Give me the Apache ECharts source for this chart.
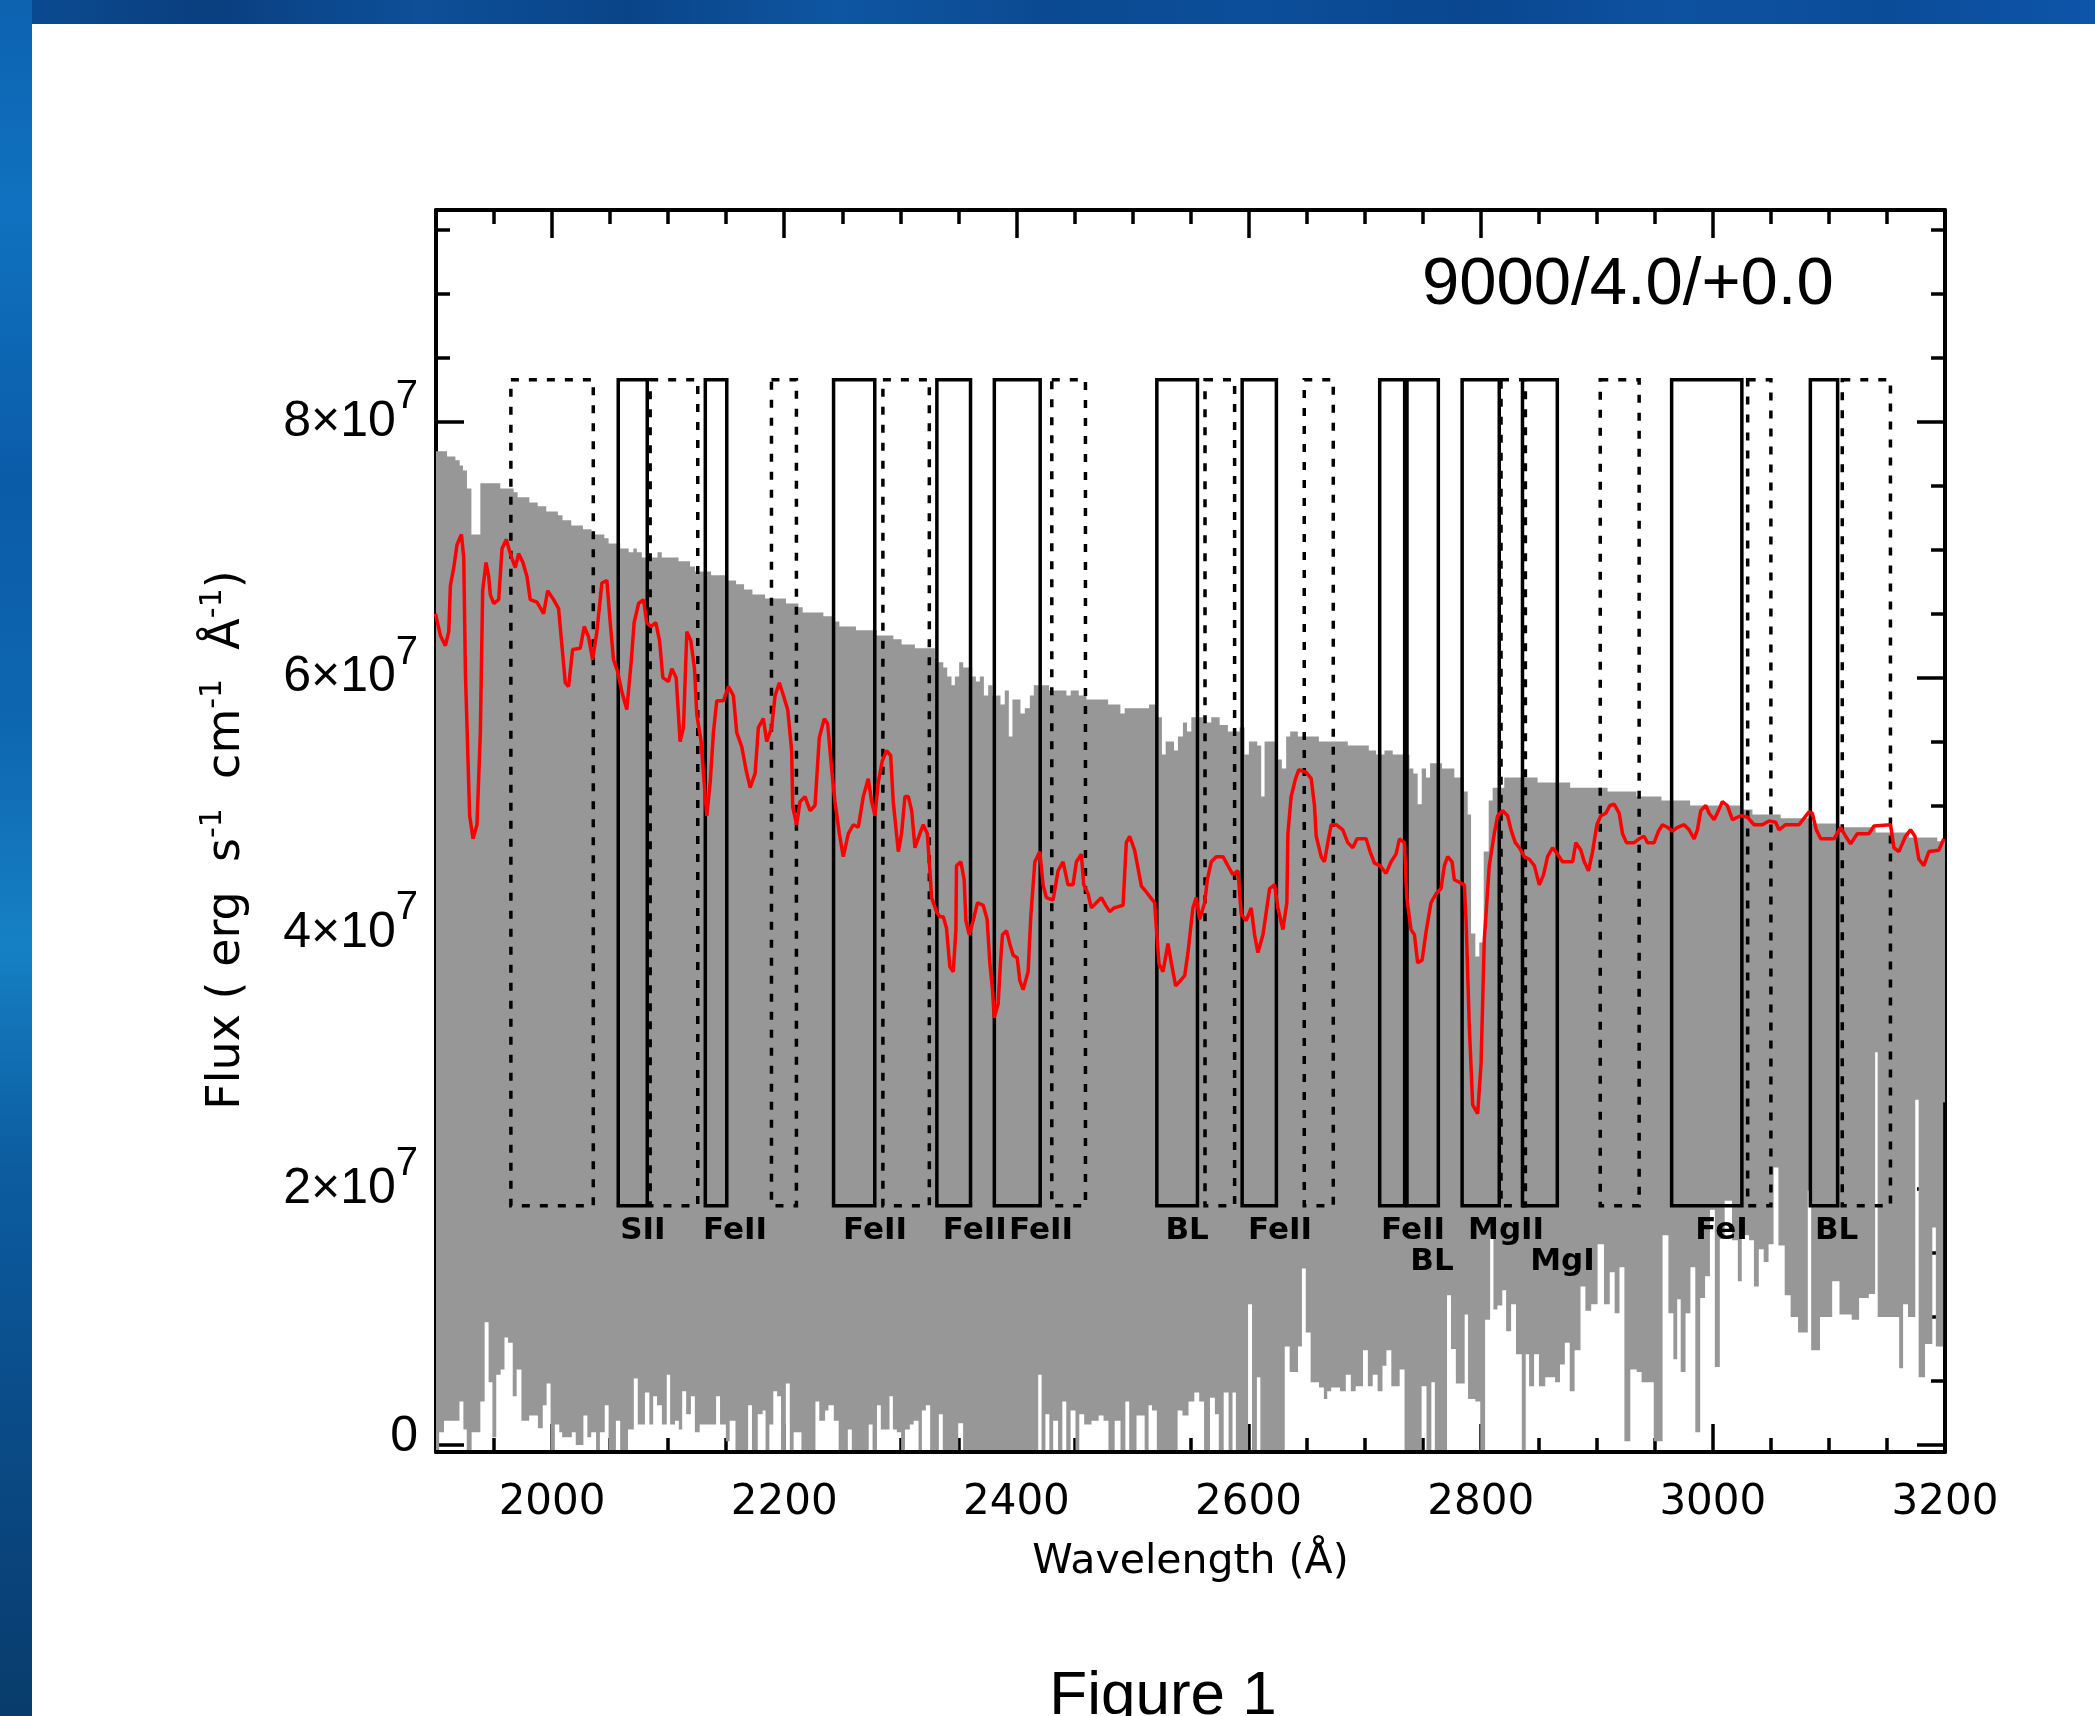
<!DOCTYPE html>
<html><head><meta charset="utf-8">
<script src="https://cdn.jsdelivr.net/npm/echarts@6/dist/echarts.min.js"></script>
<style>html,body{margin:0;padding:0;background:#fff}#c{width:2095px;height:1716px}</style>
</head><body><div id="c"></div>
<script>
// ---------------- data (flux in units of 1e7 erg s-1 cm-1 A-1) ----------------
const WAVE_MIN = 1900, WAVE_MAX = 3200;
const FLUX_MIN = -0.055, FLUX_MAX = 9.657;

const xTickValues = [2000, 2200, 2400, 2600, 2800, 3000, 3200];
const xMinorTickValues = [1950, 2050, 2100, 2150, 2250, 2300, 2350, 2450, 2500, 2550, 2650, 2700, 2750, 2850, 2900, 2950, 3050, 3100, 3150];
const yTickValues = [0, 2, 4, 6, 8];
const yMinorTickValues = [0.5, 1, 1.5, 2.5, 3, 3.5, 4.5, 5, 5.5, 6.5, 7, 7.5, 8.5, 9, 9.5];

// high-resolution model spectrum: upper envelope (step start wavelength, flux)
const modelUpper = [
[1900,7.77],[1909.5,7.73],[1916.7,7.70],[1920.4,7.66],[1923.3,7.62],[1926.7,7.48],[1930.5,7.12],[1938.2,7.52],[1955.4,7.48],[1966.9,7.45],[1970.3,7.41],[1980.4,7.37],[1987.6,7.34],[1995.0,7.30],[2005.0,7.27],[2009.0,7.23],[2016.5,7.19],[2026.6,7.16],[2034.0,7.12],[2045.0,7.09],[2048.7,7.05],[2058.7,7.01],[2066.0,6.98],[2070.0,7.01],[2073.0,6.98],[2077.3,6.94],[2090.8,6.98],[2094.5,6.94],[2108.9,6.91],[2118.9,6.87],[2123.2,6.83],[2137.0,6.80],[2151.3,6.76],[2158.5,6.73],[2165.4,6.69],[2172.6,6.65],[2183.5,6.62],[2201.5,6.58],[2212.2,6.55],[2215.9,6.51],[2233.7,6.48],[2243.7,6.44],[2247.5,6.40],[2261.8,6.37],[2279.6,6.33],[2294.0,6.30],[2301.1,6.26],[2312.6,6.23],[2329.8,6.15],[2332.7,6.12],[2337.0,6.08],[2340.4,6.01],[2344.1,5.94],[2347.0,6.01],[2350.7,6.12],[2354.2,6.08],[2361.9,6.01],[2365.1,5.97],[2368.5,6.01],[2372.0,5.86],[2375.7,5.94],[2379.4,5.86],[2386.3,5.79],[2390.0,5.90],[2393.5,5.54],[2396.6,5.83],[2403.5,5.72],[2407.3,5.76],[2411.6,5.86],[2415.0,5.94],[2428.2,5.90],[2443.1,5.86],[2446.8,5.90],[2453.7,5.86],[2460.3,5.83],[2479.0,5.79],[2489.6,5.72],[2493.3,5.76],[2514.3,5.79],[2522.0,5.69],[2525.4,5.40],[2528.6,5.50],[2535.8,5.43],[2539.2,5.54],[2543.5,5.65],[2547.0,5.58],[2550.7,5.69],[2560.7,5.65],[2567.9,5.69],[2575.1,5.63],[2582.2,5.58],[2592.3,5.61],[2596.6,5.40],[2600.3,5.50],[2607.5,5.47],[2610.9,5.07],[2613.8,5.50],[2625.3,5.36],[2628.7,5.29],[2632.4,5.54],[2635.9,5.58],[2642.5,5.54],[2660.6,5.50],[2685.5,5.47],[2703.6,5.43],[2709.9,5.40],[2717.1,5.43],[2724.2,5.40],[2738.6,5.29],[2742.0,5.25],[2745.7,5.01],[2749.2,5.29],[2752.9,5.22],[2756.4,5.33],[2766.7,5.29],[2777.3,5.22],[2785.3,5.11],[2788.8,4.93],[2791.7,4.00],[2795.4,3.82],[2798.8,3.93],[2802.6,4.64],[2806.9,5.04],[2810.3,5.14],[2820.3,5.22],[2849.0,5.18],[2877.1,5.14],[2909.3,5.11],[2934.2,5.07],[2955.7,5.04],[2980.4,5.00],[3024.0,4.97],[3034.1,4.93],[3058.4,4.90],[3085.7,4.86],[3108.6,4.83],[3140.2,4.79],[3168.9,4.75],[3193.3,4.72]
];

// high-resolution model spectrum: lower envelope (step start wavelength, flux)
const modelLower = [
[1900,-0.04],[1902.7,0.10],[1906.9,0.19],[1920.2,0.34],[1923.6,0.12],[1926.5,-0.04],[1930.7,0.10],[1938.2,0.34],[1941.9,0.96],[1945.3,0.49],[1948.6,0.06],[1951.9,0.55],[1955.7,0.59],[1959.0,0.84],[1962.0,0.80],[1966.1,0.38],[1969.5,0.59],[1973.6,0.19],[1980.3,0.23],[1987.8,0.13],[1992.0,0.31],[1995.3,0.48],[1998.7,-0.04],[2002.4,0.16],[2006.2,0.10],[2008.7,0.06],[2017.0,0.10],[2020.4,0.0],[2027.0,0.23],[2030.4,0.06],[2033.7,0.10],[2037.9,-0.04],[2041.2,0.10],[2045.4,0.31],[2048.7,-0.04],[2055.0,0.19],[2058.7,-0.04],[2065.4,0.12],[2070.4,0.52],[2073.8,0.16],[2080.0,0.41],[2083.8,0.16],[2087.1,0.38],[2090.4,0.31],[2094.6,0.16],[2098.8,0.55],[2101.7,0.16],[2105.9,0.19],[2109.2,0.12],[2112.1,0.42],[2115.5,0.24],[2119.6,0.38],[2123.0,0.10],[2127.2,0.16],[2141.3,0.38],[2144.7,0.16],[2149.7,0.03],[2153.0,0.19],[2158.0,-0.04],[2168.9,0.31],[2172.2,-0.04],[2177.2,0.24],[2181.4,0.27],[2183.9,-0.04],[2187.2,0.16],[2190.6,0.42],[2193.9,0.38],[2197.2,-0.04],[2201.4,0.48],[2204.8,-0.04],[2208.1,0.10],[2214.8,-0.04],[2226.9,0.34],[2230.2,0.19],[2235.2,0.27],[2238.1,0.31],[2242.7,0.19],[2246.9,-0.04],[2254.8,0.12],[2258.2,-0.04],[2272.8,0.16],[2276.1,-0.04],[2279.9,0.31],[2283.2,0.12],[2290.7,0.38],[2293.6,0.12],[2297.0,0.10],[2300.7,-0.04],[2304.0,0.12],[2308.2,0.16],[2311.5,0.19],[2315.7,-0.04],[2318.6,0.27],[2322.0,0.31],[2325.7,-0.04],[2333.2,0.24],[2336.6,-0.04],[2349.9,0.17],[2354.1,-0.04],[2418.8,0.55],[2421.7,-0.04],[2425.0,0.24],[2428.4,-0.04],[2431.7,0.19],[2435.9,-0.04],[2439.6,0.34],[2443.0,-0.04],[2446.7,0.27],[2450.9,-0.04],[2454.2,0.24],[2458.4,0.16],[2464.7,0.19],[2470.9,0.23],[2475.1,0.19],[2479.3,-0.04],[2484.7,0.19],[2489.7,-0.04],[2493.9,0.34],[2497.2,-0.04],[2503.5,0.23],[2510.5,-0.04],[2513.9,0.31],[2516.8,0.27],[2521.0,-0.04],[2538.9,0.27],[2543.1,0.23],
[2548.3,0.34],[2553.3,0.41],[2557.5,0.34],[2561.7,-0.04],[2566.8,0.37],[2571.0,0.24],[2574.4,-0.04],[2578.6,0.41],[2582.8,-0.04],[2586.2,0.41],[2589.1,-0.04],[2599.6,1.10],[2603.0,-0.04],[2607.2,0.53],[2610.2,-0.04],[2631.2,0.77],[2635.4,0.57],[2642.6,0.77],[2646.0,1.38],[2649.3,0.88],[2653.5,0.49],[2660.7,0.45],[2664.9,0.36],[2667.8,0.42],[2671.2,0.45],[2678.8,0.42],[2683.8,0.55],[2688.1,0.42],[2692.3,0.46],[2698.6,0.74],[2702.8,0.46],[2707.0,0.55],[2711.2,0.42],[2715.4,0.62],[2718.8,0.74],[2723.0,0.46],[2730.2,0.59],[2734.4,-0.04],[2749.1,0.46],[2753.3,-0.04],[2757.5,0.49],[2760.5,-0.04],[2771.0,1.17],[2774.4,0.75],[2778.6,0.48],[2786.2,1.02],[2789.1,0.36],[2795.4,0.34],[2799.6,-0.04],[2803.8,0.98],[2808.1,1.64],[2811.0,1.06],[2814.4,1.09],[2818.6,1.21],[2821.9,0.89],[2826.2,1.10],[2830.4,0.71],[2835.4,-0.04],[2838.8,0.71],[2841.7,0.46],[2846.0,0.71],[2850.2,0.46],[2855.6,0.53],[2864.1,0.49],[2868.3,0.63],[2872.5,0.80],[2876.7,0.42],[2880.9,0.74],[2886.0,1.24],[2890.2,1.05],[2895.2,1.10],[2900.7,1.57],[2906.2,1.10],[2911.2,1.35],[2915.4,1.03],[2919.6,1.39],[2923.8,0.03],[2928.9,0.59],[2934.4,0.57],[2938.6,0.49],[2949.1,0.03],[2956.7,1.64],[2961.7,1.03],[2966.0,0.67],[2969.3,1.14],[2972.3,0.57],[2976.5,1.03],[2980.7,1.39],[2984.9,0.10],[2989.1,1.15],[2993.3,1.32],[2997.5,1.84],[3001.7,0.61],[3006.0,1.61],[3010.2,1.91],[3016.5,1.60],[3021.5,1.28],[3024.9,1.64],[3031.2,1.60],[3035.4,1.24],[3039.6,1.53],[3043.8,1.43],[3048.0,1.57],[3052.3,2.17],[3056.5,1.56],[3061.9,1.17],[3067.0,1.00],[3073.4,0.88],[3081.8,1.99],[3084.7,0.74],[3092.3,1.00],[3102.8,1.28],[3109.1,1.02],[3119.6,0.98],[3126.0,1.15],[3134.4,1.18],[3139.8,3.07],[3142.0,1.00],[3151.2,1.00],[3160.5,0.60],[3163.9,1.10],[3168.1,1.00],[3174.4,2.70],[3177.3,0.53],[3182.8,0.79],[3189.1,1.70],[3192.1,0.77],[3198.4,2.68]
];

// smoothed / observed spectrum (red)
const observedFlux = [
[1899.5,6.50],[1903.8,6.33],[1908.1,6.25],[1911.0,6.36],[1912.4,6.72],[1915.3,6.86],[1918.1,7.04],[1921.9,7.12],[1923.9,6.94],[1925.3,6.05],[1929.0,4.92],[1931.9,4.74],[1935.3,4.85],[1938.2,5.57],[1940.2,6.68],[1943.1,6.90],[1945.4,6.79],[1946.8,6.65],[1949.7,6.58],[1954.0,6.61],[1956.9,7.01],[1960.6,7.08],[1964.0,6.97],[1968.3,6.86],[1971.2,6.97],[1974.9,6.90],[1978.4,6.79],[1981.2,6.61],[1987.0,6.59],[1992.7,6.50],[1996.2,6.68],[2001.3,6.61],[2005.6,6.54],[2008.5,6.25],[2011.4,5.96],[2014.2,5.93],[2017.7,6.22],[2024.3,6.23],[2027.7,6.40],[2031.4,6.32],[2034.9,6.14],[2038.6,6.36],[2042.9,6.74],[2047.2,6.76],[2050.1,6.43],[2052.9,6.14],[2056.4,6.05],[2060.1,5.89],[2064.4,5.75],[2068.2,6.13],[2070.7,6.43],[2074.5,6.58],[2078.8,6.61],[2081.6,6.43],[2085.1,6.40],[2089.4,6.43],[2092.6,6.29],[2095.4,6.00],[2100.3,5.97],[2103.2,6.07],[2106.9,6.00],[2110.3,5.50],[2113.2,5.61],[2116.1,6.36],[2119.5,6.29],[2122.7,6.07],[2124.7,5.71],[2128.4,5.50],[2130.4,5.25],[2133.3,4.92],[2136.2,5.18],[2139.0,5.57],[2141.9,5.82],[2147.7,5.82],[2151.9,5.93],[2156.2,5.86],[2159.1,5.57],[2163.4,5.46],[2167.1,5.28],[2170.6,5.14],[2174.9,5.25],[2177.7,5.61],[2182.0,5.68],[2184.9,5.50],[2189.2,5.61],[2192.1,5.86],[2195.8,5.96],[2199.3,5.86],[2203.0,5.75],[2206.4,5.43],[2207.3,4.99],[2210.7,4.85],[2213.6,5.03],[2217.9,5.07],[2222.2,4.96],[2226.5,5.00],[2230.2,5.53],[2234.5,5.68],[2237.4,5.64],[2240.9,5.28],[2243.7,5.03],[2247.5,4.78],[2250.9,4.60],[2255.2,4.78],[2259.5,4.85],[2263.8,4.83],[2268.1,5.07],[2272.4,5.21],[2275.3,5.03],[2278.2,4.92],[2281.0,5.18],[2284.5,5.35],[2288.2,5.43],[2291.7,5.39],[2293.9,5.03],[2298.3,4.64],[2301.1,4.78],[2304.0,5.07],[2306.9,5.07],[2309.8,4.96],[2312.6,4.67],[2316.9,4.78],[2319.8,4.85],[2323.3,4.78],[2325.5,4.49],[2326.9,4.28],[2331.2,4.17],[2334.1,4.13],
[2337.0,4.13],[2339.8,4.04],[2342.7,3.74],[2345.6,3.70],[2347.9,4.03],[2348.4,4.53],[2352.2,4.56],[2355.0,4.42],[2356.5,4.10],[2359.4,3.99],[2362.8,4.10],[2366.5,4.24],[2371.4,4.22],[2374.8,4.11],[2377.1,3.77],[2379.4,3.56],[2380.9,3.34],[2384.3,3.45],[2386.3,3.77],[2388.0,3.99],[2391.5,4.02],[2394.3,3.92],[2397.2,3.83],[2400.7,3.81],[2403.0,3.63],[2405.8,3.56],[2410.1,3.70],[2412.4,4.13],[2415.9,4.56],[2420.2,4.64],[2423.0,4.38],[2425.9,4.28],[2431.6,4.26],[2435.9,4.49],[2440.2,4.56],[2444.5,4.38],[2448.8,4.38],[2451.7,4.56],[2456.0,4.62],[2458.0,4.38],[2461.8,4.31],[2464.6,4.20],[2468.9,4.24],[2473.2,4.28],[2477.0,4.22],[2480.4,4.17],[2484.1,4.20],[2491.9,4.22],[2494.7,4.71],[2497.6,4.76],[2501.9,4.65],[2504.8,4.51],[2507.7,4.37],[2511.4,4.33],[2515.7,4.28],[2519.1,4.24],[2520.6,4.04],[2522.9,3.76],[2526.3,3.70],[2530.6,3.92],[2533.5,3.77],[2537.2,3.59],[2541.2,3.63],[2545.0,3.67],[2547.8,3.85],[2552.1,4.20],[2555.0,4.28],[2557.9,4.11],[2562.2,4.24],[2564.5,4.42],[2567.9,4.56],[2572.2,4.60],[2578.0,4.60],[2582.2,4.53],[2586.5,4.46],[2590.9,4.49],[2593.7,4.15],[2598.0,4.10],[2602.3,4.20],[2605.2,3.99],[2608.1,3.85],[2612.4,3.99],[2615.8,4.20],[2618.1,4.35],[2622.4,4.38],[2625.3,4.20],[2629.6,4.03],[2633.0,4.24],[2633.9,4.78],[2636.7,5.07],[2640.5,5.21],[2643.3,5.28],[2649.7,5.26],[2654.0,5.21],[2656.8,5.00],[2658.3,4.76],[2662.6,4.60],[2665.4,4.56],[2668.3,4.71],[2671.2,4.85],[2675.5,4.85],[2681.2,4.81],[2685.5,4.71],[2689.8,4.67],[2693.5,4.74],[2701.3,4.74],[2704.7,4.64],[2708.5,4.55],[2713.3,4.53],[2718.5,4.47],[2722.8,4.56],[2727.1,4.62],[2730.0,4.74],[2734.3,4.71],[2736.3,4.28],[2740.0,4.03],[2742.9,3.99],[2745.7,3.77],[2749.5,3.79],[2752.9,4.01],[2757.2,4.24],[2761.5,4.31],
[2765.8,4.35],[2768.7,4.53],[2771.6,4.60],[2775.3,4.56],[2777.3,4.42],[2781.6,4.40],[2785.9,4.38],[2787.4,4.10],[2790.2,3.27],[2793.1,2.66],[2797.4,2.59],[2800.3,2.98],[2803.1,3.95],[2807.4,4.53],[2811.7,4.78],[2814.6,4.92],[2818.9,4.96],[2823.2,4.92],[2826.1,4.81],[2829.8,4.71],[2833.3,4.67],[2837.6,4.60],[2841.9,4.58],[2846.2,4.53],[2850.5,4.38],[2854.2,4.46],[2857.6,4.60],[2861.9,4.67],[2866.2,4.62],[2870.5,4.56],[2879.2,4.56],[2882.0,4.71],[2886.3,4.65],[2889.2,4.56],[2892.9,4.49],[2896.4,4.64],[2900.1,4.85],[2903.5,4.92],[2907.8,4.94],[2911.3,5.00],[2915.0,5.01],[2919.3,4.94],[2922.2,4.78],[2925.6,4.71],[2932.2,4.71],[2936.5,4.74],[2940.8,4.76],[2943.7,4.71],[2949.4,4.71],[2953.2,4.80],[2956.6,4.85],[2960.9,4.83],[2965.2,4.80],[2969.5,4.83],[2975.2,4.85],[2979.6,4.81],[2983.9,4.74],[2986.7,4.81],[2989.6,4.96],[2993.9,5.00],[2996.8,4.94],[3001.1,4.89],[3004.8,4.96],[3008.2,5.03],[3012.5,5.00],[3016.8,4.89],[3024.0,4.92],[3029.8,4.91],[3035.5,4.85],[3042.7,4.85],[3048.4,4.88],[3054.1,4.87],[3057.0,4.81],[3062.7,4.85],[3074.2,4.85],[3078.5,4.90],[3082.8,4.95],[3085.7,4.94],[3089.1,4.81],[3092.9,4.74],[3104.3,4.74],[3110.1,4.83],[3114.4,4.76],[3118.7,4.70],[3124.4,4.78],[3134.5,4.78],[3138.8,4.84],[3153.1,4.85],[3156.0,4.67],[3160.3,4.64],[3166.0,4.76],[3170.3,4.81],[3174.1,4.76],[3177.5,4.58],[3181.8,4.53],[3186.1,4.64],[3194.7,4.65],[3199.0,4.74]
];

// index windows (line windows solid, pseudo-continuum windows dashed)
const solidWindows = [[2057,2082],[2132,2150.5],[2242.5,2278],[2331.5,2360.5],[2381,2420.5],[2521,2556],[2594.5,2624],[2713,2734.5],[2736.5,2763.5],[2784,2816],[2836,2866],[2964.5,3025],[3084,3107.5]];
const dashedWindows = [[1964.5,2035.5],[2084.5,2125.5],[2189,2210.5],[2285,2325],[2430.5,2459.5],[2562.5,2588],[2648,2673],[2817.5,2838.5],[2903,2936.5],[3030,3050],[3111.5,3153]];
const WINDOW_BOTTOM = 1.87, WINDOW_TOP = 8.33;

// line identifications
const lineLabelNames = ['SII','FeII','FeII','FeII','FeII','BL','FeII','FeII','MgII','FeI','BL','BL','MgI'];
const lineLabelWave  = [2058.7,2130,2250.6,2336.6,2393.6,2528.4,2599.6,2714.2,2789.1,2984.9,3088,2739.4,2842.6];
const lineLabelRow   = [0,0,0,0,0,0,0,0,0,0,0,1,1];
const LABEL_ROW_LEVEL = [1.67, 1.43];

// ---------------- chart ----------------
const chart = echarts.init(document.getElementById('c'), null, {renderer: 'canvas'});
const black = '#000';
const tickStyle = {color: black, width: 3.5};

function xAxisDef(position, ticks, len, line, labels) {
  return {
    type: 'value', min: WAVE_MIN, max: WAVE_MAX, position: position,
    splitLine: {show: false},
    axisLine: {show: line, onZero: false, lineStyle: {color: black, width: 4}},
    axisTick: {show: true, inside: true, length: len, customValues: ticks, lineStyle: tickStyle},
    axisLabel: labels ? {show: true, customValues: xTickValues, margin: 30, color: black,
      fontFamily: 'DejaVu Sans', fontSize: 42, lineHeight: 42, formatter: v => String(v)} : {show: false}
  };
}
function yAxisDef(position, ticks, len, line, labels) {
  return {
    type: 'value', min: FLUX_MIN, max: FLUX_MAX, position: position,
    splitLine: {show: false},
    axisLine: {show: line, onZero: false, lineStyle: {color: black, width: 4}},
    axisTick: {show: true, inside: true, length: len, customValues: ticks, lineStyle: tickStyle},
    axisLabel: labels ? {show: true, customValues: yTickValues, margin: 18, color: black,
      formatter: v => v === 0 ? '{z|0}' : '{m|' + v + '×10}{s|7}',
      rich: {
        m: {fontFamily: 'Liberation Sans', fontSize: 50, lineHeight: 50, color: black, verticalAlign: 'middle'},
        z: {fontFamily: 'Liberation Sans', fontSize: 50, lineHeight: 50, color: black, padding: [0, 0, 16, 0], verticalAlign: 'middle'},
        s: {fontFamily: 'Liberation Sans', fontSize: 40, lineHeight: 40, color: black, padding: [0, 0, 50, 0], verticalAlign: 'middle'}
      }} : {show: false}
  };
}

const xAxes = [
  Object.assign(xAxisDef('bottom', xTickValues, 28, true, true), {
    name: 'Wavelength (Å)', nameLocation: 'middle', nameGap: 90,
    nameTextStyle: {fontFamily: 'DejaVu Sans', fontSize: 41, lineHeight: 41, color: black}
  }),
  xAxisDef('bottom', xMinorTickValues, 14, false, false),
  xAxisDef('top', xTickValues, 28, true, false),
  xAxisDef('top', xMinorTickValues, 14, false, false)
];
const yAxes = [
  yAxisDef('left', yTickValues, 28, true, true),
  yAxisDef('left', yMinorTickValues, 14, false, false),
  yAxisDef('right', yTickValues, 28, true, false),
  yAxisDef('right', yMinorTickValues, 14, false, false)
];

const windowData = solidWindows.map(w => [w[0], w[1], 0]).concat(dashedWindows.map(w => [w[0], w[1], 1]));
const labelData = lineLabelWave.map((w, i) => [w, LABEL_ROW_LEVEL[lineLabelRow[i]]]);

const option = {
  animation: false,
  backgroundColor: '#ffffff',
  grid: {left: 436, right: 150, top: 210, bottom: 264, containLabel: false},
  xAxis: xAxes,
  yAxis: yAxes,
  series: [
    { // model spectrum band
      type: 'custom', xAxisIndex: 0, yAxisIndex: 0, z: 2, silent: true, clip: true,
      data: [[2500, 5]],
      renderItem: function (params, api) {
        const pts = [];
        for (let i = 0; i < modelUpper.length; i++) {
          const x1 = i + 1 < modelUpper.length ? modelUpper[i + 1][0] : WAVE_MAX;
          pts.push(api.coord([modelUpper[i][0], modelUpper[i][1]]));
          pts.push(api.coord([x1, modelUpper[i][1]]));
        }
        for (let j = modelLower.length - 1; j >= 0; j--) {
          const x1 = j + 1 < modelLower.length ? modelLower[j + 1][0] : WAVE_MAX;
          pts.push(api.coord([x1, modelLower[j][1]]));
          pts.push(api.coord([modelLower[j][0], modelLower[j][1]]));
        }
        return {type: 'polygon', shape: {points: pts}, style: {fill: '#979797', stroke: null}};
      }
    },
    { // index windows
      type: 'custom', xAxisIndex: 0, yAxisIndex: 0, z: 3, silent: true,
      data: windowData, encode: {x: [0, 1]},
      renderItem: function (params, api) {
        const p1 = api.coord([api.value(0), WINDOW_TOP]);
        const p2 = api.coord([api.value(1), WINDOW_BOTTOM]);
        const dashed = api.value(2) === 1;
        return {type: 'rect', shape: {x: p1[0], y: p1[1], width: p2[0] - p1[0], height: p2[1] - p1[1]},
          style: {fill: null, stroke: black, lineWidth: 3.5, lineDash: dashed ? [8, 10] : null}};
      }
    },
    { // observed spectrum
      type: 'line', xAxisIndex: 0, yAxisIndex: 0, z: 4, silent: true,
      data: observedFlux, showSymbol: false, symbol: 'none',
      lineStyle: {color: '#ff0000', width: 3.5}
    },
    { // line identifications
      type: 'custom', xAxisIndex: 0, yAxisIndex: 0, z: 5, silent: true, clip: false,
      data: labelData,
      renderItem: function (params, api) {
        const p = api.coord([api.value(0), api.value(1)]);
        return {type: 'text', x: p[0], y: p[1],
          style: {text: lineLabelNames[params.dataIndex], fill: black, fontFamily: 'DejaVu Sans', fontSize: 31,
            fontWeight: 'bold', align: 'left', verticalAlign: 'middle', textAlign: 'left', textVerticalAlign: 'middle'}};
      }
    }
  ],
  graphic: [
    {type: 'rect', z: -1, shape: {x: 0, y: 0, width: 2095, height: 24},
      style: {fill: new echarts.graphic.LinearGradient(0, 0, 1, 0, [
        {offset: 0, color: '#0b4c92'}, {offset: 0.1, color: '#0a3f80'}, {offset: 0.2, color: '#0d4f98'},
        {offset: 0.3, color: '#0a4488'}, {offset: 0.4, color: '#0e56a2'}, {offset: 0.5, color: '#0b4a92'},
        {offset: 0.6, color: '#0c4e9a'}, {offset: 0.7, color: '#0a4690'}, {offset: 0.8, color: '#0d52a0'},
        {offset: 0.9, color: '#0b4c98'}, {offset: 1, color: '#0d55aa'}])}},
    {type: 'rect', z: -1, shape: {x: 0, y: 0, width: 32, height: 1716},
      style: {fill: new echarts.graphic.LinearGradient(0, 0, 0, 1, [
        {offset: 0, color: '#0d62b0'}, {offset: 0.12, color: '#0f72c0'}, {offset: 0.28, color: '#0b5ca8'},
        {offset: 0.42, color: '#0e66b0'}, {offset: 0.55, color: '#1680c4'}, {offset: 0.68, color: '#0c5ca0'},
        {offset: 0.84, color: '#0a4a86'}, {offset: 1, color: '#083c6c'}])}},
    {type: 'text', x: 1422, y: 286, z: 10,
      style: {text: '9000/4.0/+0.0', fill: black, fontFamily: 'Liberation Sans', fontSize: 67,
        align: 'left', verticalAlign: 'middle'}},
    {type: 'text', x: 227, y: 840, rotation: Math.PI / 2, z: 10,
      style: {text: '{t|Flux ( erg  s}{s|-1}{t|  cm}{s|-1}{t|  Å}{s|-1}{t|)}', fill: black,
        align: 'center', verticalAlign: 'middle',
        rich: {
          t: {fontFamily: 'DejaVu Sans', fontSize: 46, lineHeight: 46, fill: black, verticalAlign: 'middle'},
          s: {fontFamily: 'DejaVu Sans', fontSize: 30, lineHeight: 30, fill: black, padding: [0, 0, 28, 0], verticalAlign: 'middle'}
        }}},
    {type: 'text', x: 1163, y: 1666, z: 10,
      style: {text: 'Figure 1', fill: black, fontFamily: 'Liberation Sans', fontSize: 62, lineHeight: 62,
        align: 'center', verticalAlign: 'top'}}
  ]
};
chart.setOption(option);
</script>
</body></html>
